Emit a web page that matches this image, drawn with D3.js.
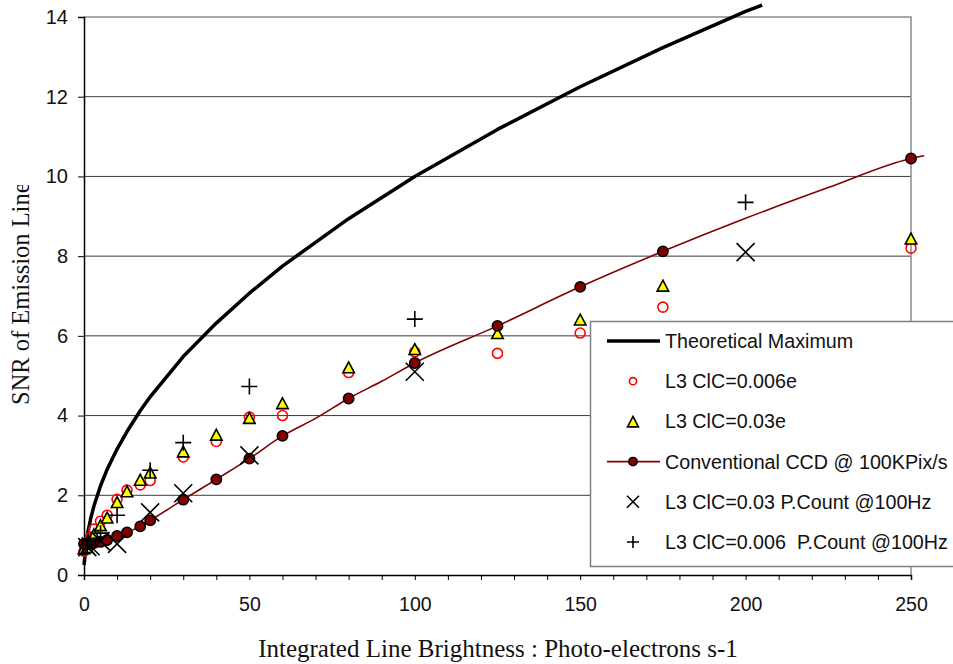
<!DOCTYPE html>
<html>
<head>
<meta charset="utf-8">
<script src="https://cdn.jsdelivr.net/npm/d3@7"></script>
<style>
  html, body { margin: 0; padding: 0; background: #fff; }
  svg { display: block; }
</style>
</head>
<body>
<svg id="chart" width="953" height="664"></svg>
<script>
// ---------------- data ----------------
const xTicks = [0, 50, 100, 150, 200, 250];
const yTicks = [0, 2, 4, 6, 8, 10, 12, 14];

const seriesNames = [
  "Theoretical Maximum",
  "L3 ClC=0.006e",
  "L3 ClC=0.03e",
  "Conventional CCD @ 100KPix/s",
  "L3 ClC=0.03 P.Count @100Hz",
  "L3 ClC=0.006  P.Count @100Hz"
];

// Theoretical maximum (thick black line)
const theoX = [0, 1, 2, 3, 5, 7, 10, 13, 17, 20, 30, 40, 50, 60, 80, 100, 125, 150, 175, 200, 205];
const theoY = [0.25, 1.0, 1.41, 1.73, 2.24, 2.65, 3.16, 3.6, 4.12, 4.47, 5.48, 6.32, 7.07, 7.75, 8.94, 10.0, 11.18, 12.25, 13.23, 14.14, 14.3];

// Shared x values for the dense series
const denseX = [0, 1, 2, 3, 5, 7, 10, 13, 17, 20, 30, 40, 50, 60, 80, 100, 125, 150, 175, 250];
// L3 CIC=0.006e (red open circles)
const cic006Y = [0.6, 0.75, 0.95, 1.15, 1.35, 1.5, 1.9, 2.13, 2.26, 2.37, 2.96, 3.35, 3.96, 4.0, 5.08, 5.6, 5.56, 6.07, 6.72, 8.2];
// L3 CIC=0.03e (yellow triangles)
const cic03Y = [0.65, 0.68, 0.85, 1.0, 1.23, 1.42, 1.81, 2.08, 2.37, 2.55, 3.08, 3.5, 3.92, 4.29, 5.19, 5.65, 6.05, 6.39, 7.24, 8.42];
// Conventional CCD (dark red dots + line)
const ccdY = [0.78, 0.78, 0.78, 0.8, 0.83, 0.88, 0.98, 1.07, 1.22, 1.37, 1.89, 2.4, 2.92, 3.49, 4.43, 5.32, 6.25, 7.23, 8.12, 10.45];
const ccdLineX = [0, 1, 2, 3, 5, 7, 10, 13, 17, 20, 30, 40, 50, 60, 70, 80, 90, 100, 125, 150, 175, 200, 225, 250, 254];
const ccdLineY = [0.78, 0.78, 0.78, 0.8, 0.83, 0.88, 0.98, 1.07, 1.22, 1.37, 1.89, 2.4, 2.92, 3.49, 3.93, 4.43, 4.86, 5.32, 6.25, 7.23, 8.12, 8.95, 9.72, 10.45, 10.52];

// Photon counting series (sparse x)
const pcX = [1, 2, 5, 10, 20, 30, 50, 100, 200];
const pc03Y = [0.7, 0.72, 0.85, 0.78, 1.57, 2.05, 3.0, 5.1, 8.1];   // X markers
const pc006Y = [0.75, 0.85, 1.05, 1.5, 2.63, 3.32, 4.73, 6.42, 9.35]; // + markers

// ---------------- chart ----------------
const svg = d3.select("#chart");
const W = 953, H = 664;
svg.append("rect").attr("width", W).attr("height", H).attr("fill", "#fff");

const x = d3.scaleLinear().domain([0, 250]).range([84, 911]);
const y = d3.scaleLinear().domain([0, 14]).range([575, 17]);

const sans = "'Liberation Sans', Arial, sans-serif";
const serif = "'Liberation Serif', 'Times New Roman', serif";

// gridlines
svg.append("g").selectAll("line").data(yTicks.filter(d => d > 0 && d < 14)).join("line")
  .attr("x1", x(0)).attr("x2", x(250))
  .attr("y1", d => y(d)).attr("y2", d => y(d))
  .attr("stroke", "#3a3a3a").attr("stroke-width", 1);

// plot border (top & right, gray)
svg.append("path")
  .attr("d", `M${x(0)},${y(14)}H${x(250)}V${y(0)}`)
  .attr("fill", "none").attr("stroke", "#8a8a8a").attr("stroke-width", 1.5);

// Y axis
const yAxis = svg.append("g").attr("transform", `translate(${x(0)},0)`)
  .call(d3.axisLeft(y).tickValues(yTicks).tickSize(6).tickPadding(10).tickFormat(d3.format("d")));
yAxis.select(".domain").attr("stroke", "#000").attr("stroke-width", 1.5);
yAxis.selectAll(".tick line").attr("stroke", "#000");
yAxis.selectAll("text").attr("font-family", sans).attr("font-size", 20).attr("fill", "#111");

// X axis (minor ticks every 10, labels every 50)
const xAxis = svg.append("g").attr("transform", `translate(0,${y(0)})`)
  .call(d3.axisBottom(x).tickValues(d3.range(0, 251, 10)).tickSize(5).tickPadding(17)
    .tickFormat(d => xTicks.includes(d) ? d : ""));
xAxis.select(".domain").attr("stroke", "#000").attr("stroke-width", 1.5);
xAxis.selectAll(".tick line").attr("stroke", "#000");
xAxis.selectAll("text").attr("font-family", sans).attr("font-size", 19.5).attr("fill", "#111");

// axis titles
svg.append("text")
  .attr("x", 498).attr("y", 657)
  .attr("text-anchor", "middle")
  .attr("font-family", serif).attr("font-size", 25).attr("fill", "#111")
  .text("Integrated Line Brightness : Photo-electrons s-1");

svg.append("clipPath").attr("id", "ylabClip")
  .append("rect").attr("x", 0).attr("y", 185).attr("width", 60).attr("height", 300);
svg.append("g").attr("clip-path", "url(#ylabClip)")
  .append("text")
  .attr("transform", "translate(29,405) rotate(-90)")
  .attr("text-anchor", "start")
  .attr("font-family", serif).attr("font-size", 24.5).attr("fill", "#111")
  .text("SNR of Emission Line");

// ---- series ----
const line = d3.line().x(d => x(d[0])).y(d => y(d[1]));

// Theoretical maximum
svg.append("path")
  .datum(d3.zip(theoX, theoY))
  .attr("d", line)
  .attr("fill", "none").attr("stroke", "#000").attr("stroke-width", 3.5)
  .attr("stroke-linejoin", "round");

// marker helpers
function drawCircle(g, cx, cy, r) {
  g.append("circle").attr("cx", cx).attr("cy", cy).attr("r", r)
    .attr("fill", "none").attr("stroke", "#ff0000").attr("stroke-width", 1.6);
}
function drawTriangle(g, cx, cy, s) {
  const h = s * 0.9;
  g.append("path")
    .attr("d", `M${cx},${cy - h * 0.6}L${cx + s / 2},${cy + h * 0.45}L${cx - s / 2},${cy + h * 0.45}Z`)
    .attr("fill", "#ffff00").attr("stroke", "#000").attr("stroke-width", 1.6)
    .attr("stroke-linejoin", "miter");
}
function drawDot(g, cx, cy, r) {
  g.append("circle").attr("cx", cx).attr("cy", cy).attr("r", r)
    .attr("fill", "#800000").attr("stroke", "#000").attr("stroke-width", 1.5);
}
function drawX(g, cx, cy, h) {
  g.append("path")
    .attr("d", `M${cx - h},${cy - h}L${cx + h},${cy + h}M${cx - h},${cy + h}L${cx + h},${cy - h}`)
    .attr("stroke", "#000").attr("stroke-width", 1.6).attr("fill", "none");
}
function drawPlus(g, cx, cy, h) {
  g.append("path")
    .attr("d", `M${cx - h},${cy}H${cx + h}M${cx},${cy - h}V${cy + h}`)
    .attr("stroke", "#000").attr("stroke-width", 1.6).attr("fill", "none");
}

// L3 CIC=0.006e circles
const gC = svg.append("g");
denseX.forEach((xv, i) => drawCircle(gC, x(xv), y(cic006Y[i]), 5));

// L3 CIC=0.03e triangles
const gT = svg.append("g");
denseX.forEach((xv, i) => drawTriangle(gT, x(xv), y(cic03Y[i]), 11.5));

// Conventional CCD line + dots
svg.append("path")
  .datum(d3.zip(ccdLineX, ccdLineY))
  .attr("d", line.curve(d3.curveMonotoneX))
  .attr("fill", "none").attr("stroke", "#800000").attr("stroke-width", 1.6);
line.curve(d3.curveLinear);
const gD = svg.append("g");
denseX.forEach((xv, i) => drawDot(gD, x(xv), y(ccdY[i]), 5.2));

// Photon counting X
const gX = svg.append("g");
pcX.forEach((xv, i) => drawX(gX, x(xv), y(pc03Y[i]), 9));

// Photon counting +
const gP = svg.append("g");
pcX.forEach((xv, i) => drawPlus(gP, x(xv), y(pc006Y[i]), 8));

// ---- legend ----
const lg = svg.append("g");
lg.append("rect").attr("x", 590.5).attr("y", 321.5).attr("width", 380).attr("height", 245)
  .attr("fill", "#fff").attr("stroke", "#808080").attr("stroke-width", 1.5);
const rowY = i => 341 + i * 40.2;
const mx = 633;
// row 0: theoretical line
lg.append("line").attr("x1", 607).attr("x2", 660).attr("y1", rowY(0)).attr("y2", rowY(0))
  .attr("stroke", "#000").attr("stroke-width", 3.5);
drawCircle(lg, mx, rowY(1), 3.6);
drawTriangle(lg, mx, rowY(2) + 1, 11);
lg.append("line").attr("x1", 607).attr("x2", 660).attr("y1", rowY(3)).attr("y2", rowY(3))
  .attr("stroke", "#800000").attr("stroke-width", 1.6);
drawDot(lg, mx, rowY(3), 4.2);
drawX(lg, mx, rowY(4), 6);
drawPlus(lg, mx, rowY(5), 6);
lg.selectAll("text.leg").data(seriesNames).join("text")
  .attr("class", "leg")
  .attr("x", 665).attr("y", (d, i) => rowY(i)).attr("dy", "0.36em")
  .attr("font-family", sans).attr("font-size", 19.7).attr("fill", "#111")
  .style("white-space", "pre").attr("xml:space", "preserve")
  .text(d => d);
</script>
</body>
</html>
